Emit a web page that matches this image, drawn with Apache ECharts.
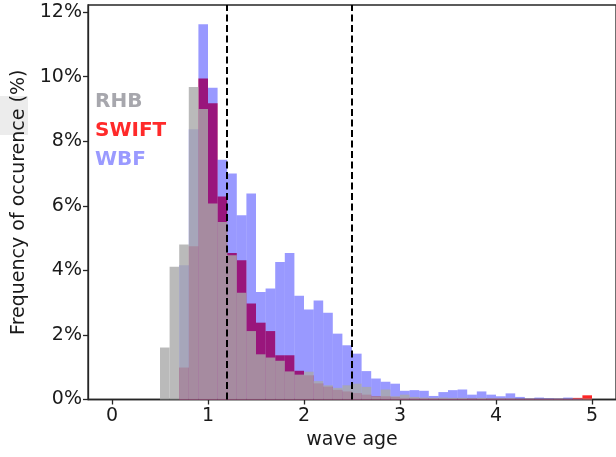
<!DOCTYPE html>
<html>
<head>
<meta charset="utf-8">
<script src="https://cdn.jsdelivr.net/npm/echarts@6/dist/echarts.min.js"></script>
<style>
html,body{margin:0;padding:0;background:#fff;}
#chart{width:616px;height:457px;}
</style>
</head>
<body>
<div id="chart"></div>
<script>
// Histogram bins (left edges, width 0.1)
var binLeft = [0.5,0.6,0.7,0.8,0.9,1.0,1.1,1.2,1.3,1.4,1.5,1.6,1.7,1.8,1.9,2.0,2.1,2.2,2.3,2.4,2.5,2.6,2.7,2.8,2.9,3.0,3.1,3.2,3.3,3.4,3.5,3.6,3.7,3.8,3.9,4.0,4.1,4.2,4.3,4.4,4.5,4.6,4.7,4.8,4.9];
var binWidth = 0.1;
// Frequency of occurence (%)
var rhb   = [1.61,4.11,4.80,9.68,9.00,6.07,5.50,4.47,3.31,2.12,1.40,1.30,1.20,0.87,0.77,0.86,0.57,0.44,0.36,0.44,0.49,0.39,0.10,0.31,0.10,0.15,0.08,0.06,0.05,0.06,0.05,0.05,0.04,0.05,0.04,0.04,0.04,0.03,0.03,0.03,0.03,0.03,0.03,0.03,0.03];
var swift = [0,0,0.99,4.75,9.94,9.18,6.29,4.54,4.31,2.97,2.38,2.12,1.37,1.37,0.89,0.75,0.50,0.40,0.30,0.25,0.20,0.15,0.10,0.10,0.08,0.05,0.05,0.04,0.04,0.03,0.03,0.03,0.03,0.03,0.03,0.03,0.03,0.02,0.02,0.02,0.02,0.02,0.02,0.05,0.13];
var wbf   = [0,0,4.16,8.37,11.62,9.66,7.43,7.00,5.71,6.38,3.33,3.44,4.26,4.54,3.21,2.79,3.07,2.69,2.04,1.68,1.42,0.88,0.65,0.55,0.49,0.27,0.29,0.27,0.11,0.23,0.29,0.31,0.15,0.25,0.15,0.10,0.19,0.08,0.03,0.06,0.04,0.03,0.06,0.02,0.00];
var xTicks = [0,1,2,3,4,5];
var yTicks = [0,2,4,6,8,10,12];
var thresholds = [1.2, 2.5];
var seriesNames = ['RHB','SWIFT','WBF'];

function toData(vals){ return binLeft.map(function(x,i){ return [x, vals[i]]; }); }
function histSeries(name, vals, fill){
  return {
    type:'custom', name:name, data:toData(vals), encode:{x:0,y:1},
    renderItem:function(params, api){
      var x0 = api.value(0), v = api.value(1);
      if (!v) return null;
      var p0 = api.coord([x0, v]);
      var p1 = api.coord([x0 + binWidth, 0]);
      return {type:'rect', shape:{x:p0[0], y:p0[1], width:p1[0]-p0[0], height:p1[1]-p0[1]}, style:{fill:fill}};
    }
  };
}

var font = 'DejaVu Sans';
var chart = echarts.init(document.getElementById('chart'), null, {renderer:'canvas'});
chart.setOption({
  animation:false,
  backgroundColor:'#fff',
  grid:{left:88, top:5, width:530, height:394.5, show:true, borderColor:'#262626', borderWidth:1.3, backgroundColor:'transparent'},
  xAxis:{
    type:'value', min:-0.25, max:5.25,
    name:'wave age', nameLocation:'middle', nameGap:29,
    nameTextStyle:{fontFamily:font, fontSize:19, color:'#1a1a1a'},
    axisLine:{show:true, onZero:false, lineStyle:{color:'#262626', width:1.3}},
    axisTick:{show:true, length:5, lineStyle:{color:'#262626', width:1.3}, customValues:xTicks},
    axisLabel:{fontFamily:font, fontSize:19, color:'#1a1a1a', margin:7, customValues:xTicks},
    splitLine:{show:false}
  },
  yAxis:{
    type:'value', min:0, max:12.22,
    name:'Frequency of occurence (%)', nameLocation:'middle', nameGap:51, nameRotate:90,
    nameTextStyle:{fontFamily:font, fontSize:19, color:'#1a1a1a'},
    axisLine:{show:true, onZero:false, lineStyle:{color:'#262626', width:1.3}},
    axisTick:{show:true, length:5, lineStyle:{color:'#262626', width:1.3}, customValues:yTicks},
    axisLabel:{fontFamily:font, fontSize:19, color:'#1a1a1a', margin:6, customValues:yTicks, formatter:function(v){return v+'%';}},
    splitLine:{show:false}
  },
  series:[
    histSeries(seriesNames[1], swift, 'rgba(255,0,0,0.85)'),
    histSeries(seriesNames[2], wbf, 'rgba(0,0,255,0.4)'),
    histSeries(seriesNames[0], rhb, 'rgba(169,169,169,0.8)'),
    {type:'line', data:[], silent:true,
     markLine:{silent:true, symbol:'none', label:{show:false},
       lineStyle:{color:'#000', width:2, type:[7,3.5]},
       data:thresholds.map(function(t){return {xAxis:t};})}}
  ],
  graphic:[
    {type:'rect', left:0, top:96, shape:{width:28, height:39}, style:{fill:'#ececec'}, z:-1},
    {type:'text', left:95, top:92, style:{text:seriesNames[0], fontFamily:font, fontWeight:'bold', fontSize:20, fill:'#a7a7ad'}},
    {type:'text', left:95, top:121, style:{text:seriesNames[1], fontFamily:font, fontWeight:'bold', fontSize:20, fill:'#ff2a2a'}},
    {type:'text', left:95, top:150, style:{text:seriesNames[2], fontFamily:font, fontWeight:'bold', fontSize:20, fill:'#9a9aff'}}
  ]
});
</script>
</body>
</html>
